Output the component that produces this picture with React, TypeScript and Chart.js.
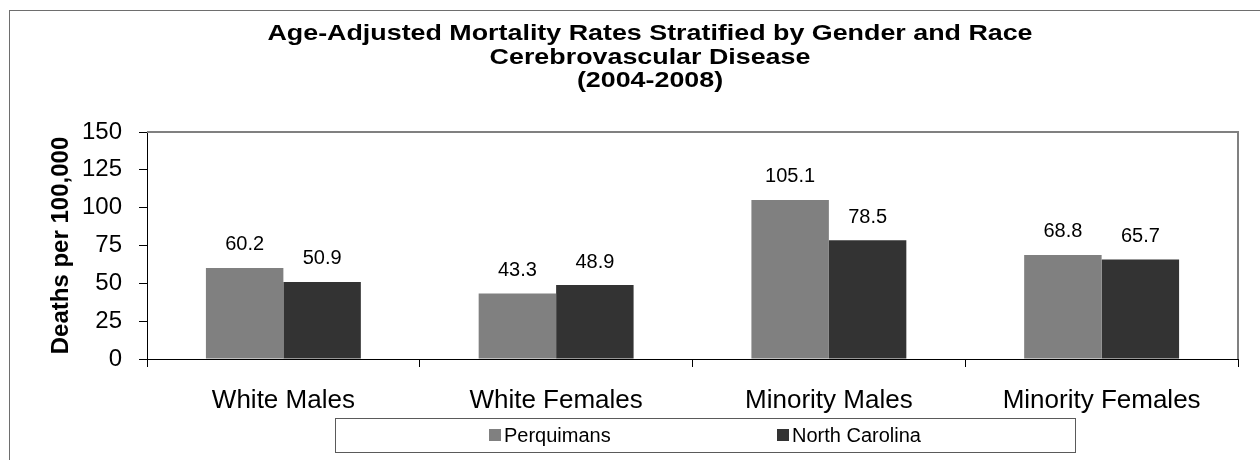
import React, { useEffect, useRef } from "react";
import { Chart, registerables } from "chart.js";

Chart.register(...registerables);

const categories = ["White Males", "White Females", "Minority Males", "Minority Females"];
const perquimans = [60.2, 43.3, 105.1, 68.8];
const northCarolina = [50.9, 48.9, 78.5, 65.7];
const seriesNames = ["Perquimans", "North Carolina"];
const seriesColors = ["#808080", "#333333"];
const titleLines = [
  "Age-Adjusted Mortality Rates Stratified by Gender and Race",
  "Cerebrovascular Disease",
  "(2004-2008)",
];
const yAxisTitle = "Deaths per 100,000";
const yMin = 0;
const yMax = 150;
const yStep = 25;

const FONT = "'Liberation Sans', Arial, sans-serif";

const titlePlugin = {
  id: "wideTitle",
  afterDraw(chart: any) {
    const { ctx } = chart;
    const cx = 640;
    const firstY = 23;
    const lineGap = 23.5;
    const stretch = 1.22;
    ctx.save();
    ctx.font = `bold 22px ${FONT}`;
    ctx.fillStyle = "#000";
    ctx.textAlign = "center";
    ctx.textBaseline = "middle";
    titleLines.forEach((line, i) => {
      ctx.save();
      ctx.translate(cx, firstY + i * lineGap);
      ctx.scale(stretch, 1);
      ctx.fillText(line, 0, 0);
      ctx.restore();
    });
    ctx.restore();
  },
};

const plotFramePlugin = {
  id: "plotFrame",
  beforeDatasetsDraw(chart: any) {
    const { ctx, chartArea } = chart;
    ctx.save();
    ctx.strokeStyle = "#808080";
    ctx.lineWidth = 2;
    ctx.beginPath();
    ctx.moveTo(chartArea.left, chartArea.top);
    ctx.lineTo(chartArea.right, chartArea.top);
    ctx.lineTo(chartArea.right, chartArea.bottom);
    ctx.stroke();
    ctx.restore();
  },
};

const valueLabelPlugin = {
  id: "valueLabels",
  afterDatasetsDraw(chart: any) {
    const { ctx } = chart;
    ctx.save();
    ctx.font = `20px ${FONT}`;
    ctx.fillStyle = "#000";
    ctx.textAlign = "center";
    ctx.textBaseline = "middle";
    chart.data.datasets.forEach((ds: any, di: number) => {
      const meta = chart.getDatasetMeta(di);
      meta.data.forEach((bar: any, i: number) => {
        ctx.fillText(Number(ds.data[i]).toFixed(1), bar.x, bar.y - 23);
      });
    });
    ctx.restore();
  },
};

const boxLegendPlugin = {
  id: "boxLegend",
  afterDraw(chart: any) {
    const { ctx } = chart;
    const boxX = 325;
    const boxY = 407;
    const boxW = 740;
    const boxH = 34;
    ctx.save();
    ctx.strokeStyle = "#5a5a5a";
    ctx.lineWidth = 1;
    ctx.strokeRect(boxX + 0.5, boxY + 0.5, boxW, boxH);
    ctx.font = `20px ${FONT}`;
    ctx.textBaseline = "middle";
    ctx.textAlign = "left";
    const starts = [479, 767];
    chart.data.datasets.forEach((ds: any, i: number) => {
      const x = starts[i];
      const cy = boxY + boxH / 2;
      ctx.fillStyle = ds.backgroundColor;
      ctx.fillRect(x, cy - 6, 12, 12);
      ctx.fillStyle = "#000";
      ctx.fillText(ds.label, x + 15, cy + 1);
    });
    ctx.restore();
  },
};

export default function App() {
  const canvasRef = useRef<HTMLCanvasElement | null>(null);

  useEffect(() => {
    if (!canvasRef.current) return;
    const chart = new Chart(canvasRef.current, {
      type: "bar",
      data: {
        labels: categories,
        datasets: [
          {
            label: seriesNames[0],
            data: perquimans,
            backgroundColor: seriesColors[0],
            borderWidth: 0,
            categoryPercentage: 0.568,
            barPercentage: 1,
          },
          {
            label: seriesNames[1],
            data: northCarolina,
            backgroundColor: seriesColors[1],
            borderWidth: 0,
            categoryPercentage: 0.568,
            barPercentage: 1,
          },
        ],
      },
      options: {
        responsive: false,
        maintainAspectRatio: false,
        animation: false,
        devicePixelRatio: 1,
        layout: { padding: { top: 121, right: 22, bottom: 0, left: 0 } },
        plugins: {
          legend: { display: false },
          tooltip: { enabled: false },
          title: { display: false },
        },
        scales: {
          x: {
            offset: true,
            grid: {
              offset: true,
              drawOnChartArea: false,
              drawTicks: true,
              tickLength: 8,
              color: "#000",
            },
            border: { color: "#000", width: 1 },
            ticks: {
              color: "#000",
              font: { family: FONT, size: 26 },
              padding: 18,
              maxRotation: 0,
            },
            afterFit: (scale: any) => {
              scale.height = 101;
            },
          },
          y: {
            min: yMin,
            max: yMax,
            grid: {
              drawOnChartArea: false,
              drawTicks: true,
              tickLength: 8,
              color: "#000",
            },
            border: { color: "#000", width: 1 },
            ticks: {
              stepSize: yStep,
              color: "#000",
              font: { family: FONT, size: 24 },
              padding: 17,
            },
            title: {
              display: true,
              text: yAxisTitle,
              color: "#000",
              font: { family: FONT, size: 24, weight: "bold" },
              padding: { top: 37, bottom: 0 },
            },
            afterFit: (scale: any) => {
              scale.width = 137;
            },
          },
        },
      },
      plugins: [plotFramePlugin, valueLabelPlugin, boxLegendPlugin, titlePlugin],
    });
    return () => chart.destroy();
  }, []);

  return (
    <>
      <div
        style={{
          position: "fixed",
          left: 9,
          top: 10,
          right: 0,
          bottom: 0,
          borderLeft: "1px solid #6e6e6e",
          borderTop: "1px solid #6e6e6e",
          background: "#fff",
        }}
      />
      <div style={{ position: "absolute", left: 10, top: 11, width: 1250, height: 449 }}>
        <canvas ref={canvasRef} width={1250} height={449} style={{ display: "block" }} />
      </div>
    </>
  );
}
